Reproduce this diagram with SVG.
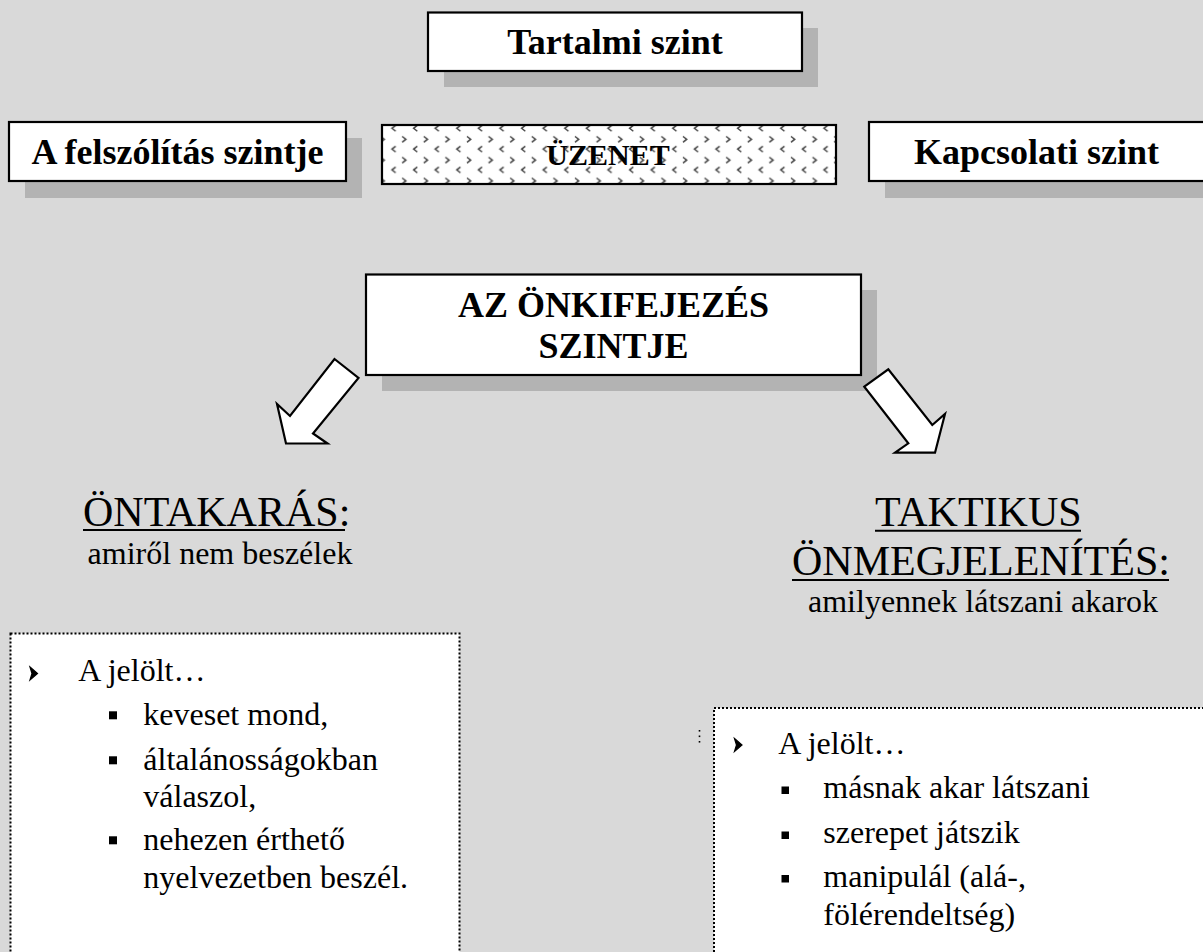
<svg xmlns="http://www.w3.org/2000/svg" width="1203" height="952" viewBox="0 0 1203 952">
<style>
.box{fill:#ffffff;stroke:#000000;stroke-width:2.2}
.shadow{fill:#b3b3b3}
.hb{font-family:"Liberation Serif","Times New Roman",serif;font-weight:bold;font-size:36px;fill:#000;text-anchor:middle}
.t42{font-family:"Liberation Serif","Times New Roman",serif;font-size:42px;fill:#000}
.t32{font-family:"Liberation Serif","Times New Roman",serif;font-size:32px;fill:#000}
.dot{fill:#ffffff;stroke:#000;stroke-width:2;stroke-dasharray:2 2}
.arrow{fill:#ffffff;stroke:#000;stroke-width:2.2;stroke-linejoin:miter}
.ul{stroke:#000;stroke-width:2}
.chev{fill:none;stroke:#444;stroke-width:1.5}
.bul{fill:#000;stroke:#000;stroke-width:1.2;stroke-linejoin:miter}
</style>
<defs>
<pattern id="chevrons" patternUnits="userSpaceOnUse" x="398.3" y="125" width="21.6" height="20.8">
<path class="chev" d="M19,0.4 L15.3,3.3 L19,6.2"/>
<path class="chev" d="M3.9,11.4 L7.6,14.3 L3.9,17.2"/>
</pattern>
</defs>
<rect x="0" y="0" width="1203" height="952" fill="#d9d9d9"/>

<g id="tartalmi">
<rect class="shadow" x="444" y="28" width="374" height="59"/>
<rect class="box" x="428" y="12.5" width="374" height="58.5"/>
<text class="hb" x="615" y="54">Tartalmi szint</text>
</g>

<g id="felszolitas">
<rect class="shadow" x="25" y="138" width="337" height="60"/>
<rect class="box" x="9" y="122" width="337" height="59"/>
<text class="hb" x="177.5" y="164.3">A felszólítás szintje</text>
</g>

<g id="uzenet">
<rect x="382" y="125" width="454" height="59" fill="#ffffff"/>
<rect x="382" y="125" width="454" height="59" fill="url(#chevrons)" stroke="#000" stroke-width="2.2"/>
<text class="hb" x="608" y="165" style="font-size:30px">ÜZENET</text>
</g>

<g id="kapcsolati">
<rect class="shadow" x="885" y="138" width="330" height="60"/>
<rect class="box" x="869" y="122" width="345" height="59"/>
<text class="hb" x="1036.5" y="164.3">Kapcsolati szint</text>
</g>

<g id="onkifejezes">
<rect class="shadow" x="382" y="290" width="495" height="101"/>
<rect class="box" x="366" y="274.5" width="495" height="100.5"/>
<text class="hb" x="613.5" y="316.7">AZ ÖNKIFEJEZÉS</text>
<text class="hb" x="613.5" y="358">SZINTJE</text>
</g>

<g id="connectors">
<polygon class="arrow" points="334.5,359 358.5,378 313,433.5 327.5,443.5 286,443.5 277,404 290,416"/>
<polygon class="arrow" points="864.3,386.7 888.3,369.3 932.3,425 945,414 935,452.7 895,452.7 908.3,443.3"/>
</g>

<g id="ontakaras">
<text class="t42" x="83" y="525.7">ÖNTAKARÁS:</text>
<line class="ul" x1="83" y1="530" x2="345" y2="530"/>
<text class="t32" x="220" y="564.3" text-anchor="middle">amiről nem beszélek</text>
</g>

<g id="taktikus">
<text class="t42" x="875" y="525.5">TAKTIKUS</text>
<line class="ul" x1="875" y1="530.7" x2="1081" y2="530.7"/>
<text class="t42" x="792" y="575">ÖNMEGJELENÍTÉS:</text>
<line class="ul" x1="792" y1="580" x2="1169" y2="580"/>
<text class="t32" x="808" y="612.3">amilyennek látszani akarok</text>
</g>

<g id="bal-lista">
<rect class="dot" x="10.5" y="633.5" width="449" height="340"/>
<path class="bul" d="M30,667 L37.5,673.5 L30,680 L32,673.5 Z"/>
<text class="t32" x="78.3" y="681">A jelölt…</text>
<rect x="109" y="711.3" width="8" height="8" fill="#000"/>
<text class="t32" x="143.3" y="725">keveset mond,</text>
<rect x="109" y="756.3" width="8" height="8" fill="#000"/>
<text class="t32" x="143.3" y="770">általánosságokban</text>
<text class="t32" x="143.3" y="806.7">válaszol,</text>
<rect x="109" y="836.3" width="8" height="8" fill="#000"/>
<text class="t32" x="143.3" y="850">nehezen érthető</text>
<text class="t32" x="143.3" y="888.3">nyelvezetben beszél.</text>
</g>

<g id="jobb-lista">
<rect class="dot" x="714" y="708" width="510" height="300"/>
<rect x="698.7" y="730" width="1.6" height="1.6" fill="#000"/>
<rect x="698.7" y="735.5" width="1.6" height="1.6" fill="#000"/>
<rect x="698.7" y="741" width="1.6" height="1.6" fill="#000"/>
<path class="bul" d="M734.5,738.5 L742,745 L734.5,751.5 L736.5,745 Z"/>
<text class="t32" x="778.3" y="754">A jelölt…</text>
<rect x="781.5" y="786.5" width="7.5" height="7.5" fill="#000"/>
<text class="t32" x="823.3" y="798.3">másnak akar látszani</text>
<rect x="781.5" y="831.5" width="7.5" height="7.5" fill="#000"/>
<text class="t32" x="823.3" y="843.3">szerepet játszik</text>
<rect x="781.5" y="875" width="7.5" height="7.5" fill="#000"/>
<text class="t32" x="823.3" y="886.7">manipulál (alá-,</text>
<text class="t32" x="823.3" y="925">fölérendeltség)</text>
</g>
</svg>
